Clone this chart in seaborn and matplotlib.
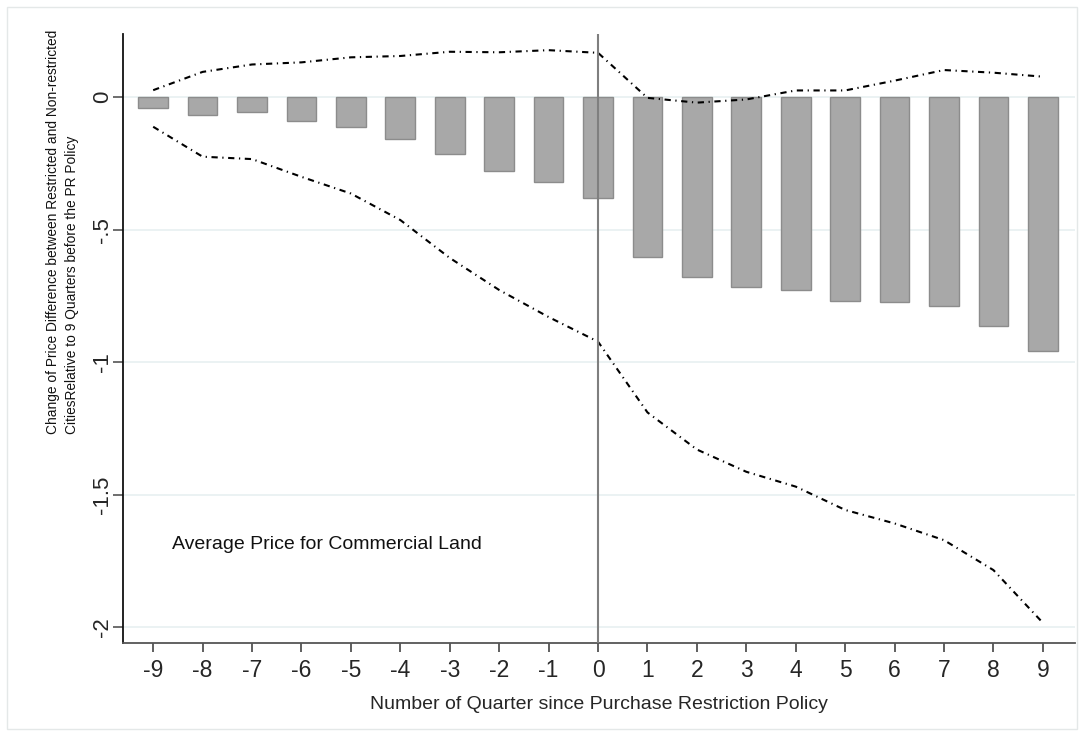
import matplotlib
matplotlib.use("Agg")
import matplotlib.pyplot as plt
import matplotlib.patches as mpatches
import pandas as pd
import seaborn as sns

# data
quarters = list(range(-9, 10))
coef = [-0.042, -0.067, -0.055, -0.089, -0.112, -0.158, -0.214, -0.278, -0.319, -0.379,
        -0.603, -0.678, -0.716, -0.727, -0.769, -0.772, -0.789, -0.863, -0.957]
upper_ci = [0.026, 0.095, 0.123, 0.131, 0.150, 0.155, 0.171, 0.169, 0.177, 0.167,
            -0.003, -0.021, -0.009, 0.025, 0.025, 0.062, 0.102, 0.092, 0.077]
lower_ci = [-0.112, -0.225, -0.234, -0.301, -0.364, -0.464, -0.607, -0.728, -0.830, -0.923,
            -1.190, -1.330, -1.414, -1.470, -1.558, -1.609, -1.672, -1.785, -1.984]
y_ticks = [0, -0.5, -1, -1.5, -2]
y_ticklabels = ["0", "-.5", "-1", "-1.5", "-2"]
ylabel_text = ("Change of Price Difference between Restricted and Non-restricted\n"
               "CitiesRelative to 9 Quarters before the PR Policy")

df = pd.DataFrame({"quarter": quarters, "coef": coef, "upper": upper_ci, "lower": lower_ci})

sns.set_theme(style="white")
plt.rcParams["font.family"] = ["Liberation Sans", "DejaVu Sans"]

fig = plt.figure(figsize=(10.84, 7.36), dpi=100)
ax = fig.add_axes([0.1135, 0.1264, 0.8782, 0.8274])

ax.set_axisbelow(True)
ax.yaxis.grid(True, color="#e9f1f2", lw=1.3)

sns.barplot(data=df, x="quarter", y="coef", native_scale=True, width=0.6,
            color="#a8a8a8", saturation=1, edgecolor="#8c8c8c", linewidth=1.0, ax=ax)

dash_dot = (0, (3, 2.2, 0.6, 2.2))
sns.lineplot(data=df, x="quarter", y="upper", color="black", lw=1.5, linestyle=dash_dot, ax=ax)
sns.lineplot(data=df, x="quarter", y="lower", color="black", lw=1.5, linestyle=dash_dot, ax=ax)

ax.axvline(0, color="#7f7f7f", lw=1.5, zorder=3)

ax.set_xlim(-9.61, 9.65)
ax.set_ylim(-2.06, 0.238)
ax.set_xticks(quarters)
ax.set_xticklabels([str(q) for q in quarters])
ax.set_yticks(y_ticks)
ax.set_yticklabels(y_ticklabels, rotation=90, va="center")

ax.tick_params(axis="x", direction="out", length=6.5, width=1.2, color="#444444",
               pad=5, labelsize=16.5, bottom=True)
ax.tick_params(axis="y", direction="out", length=7, width=1.2, color="#555555",
               pad=0, labelsize=16, left=True)

for side in ["top", "right"]:
    ax.spines[side].set_visible(False)
ax.spines["left"].set_color("#111111")
ax.spines["left"].set_linewidth(1.3)
ax.spines["bottom"].set_color("#555555")
ax.spines["bottom"].set_linewidth(1.3)

ax.set_xlabel("Number of Quarter since Purchase Restriction Policy", fontsize=14, labelpad=10)

# y title: size it so its first line is about as long as in the reference
renderer = fig.canvas.get_renderer()
probe = fig.text(0, 0, ylabel_text.split("\n")[0], fontsize=10)
length = probe.get_window_extent(renderer).width
probe.remove()
ylab_size = 10 * 405 / length
ax.set_ylabel(ylabel_text, fontsize=ylab_size, multialignment="left",
              linespacing=1.45, color="#111111")
ax.yaxis.set_label_coords(-0.046, 0.675)

ax.text(-8.62, -1.687, "Average Price for Commercial Land", fontsize=14,
        ha="left", va="center", color="#111111")

fig.patches.append(mpatches.Rectangle((7 / 1084, 7 / 736), 1070 / 1084, 722 / 736,
                                      transform=fig.transFigure, fill=False,
                                      edgecolor="#e4e8e8", lw=1.0))

fig.savefig("out.png", dpi=100, facecolor="white")
